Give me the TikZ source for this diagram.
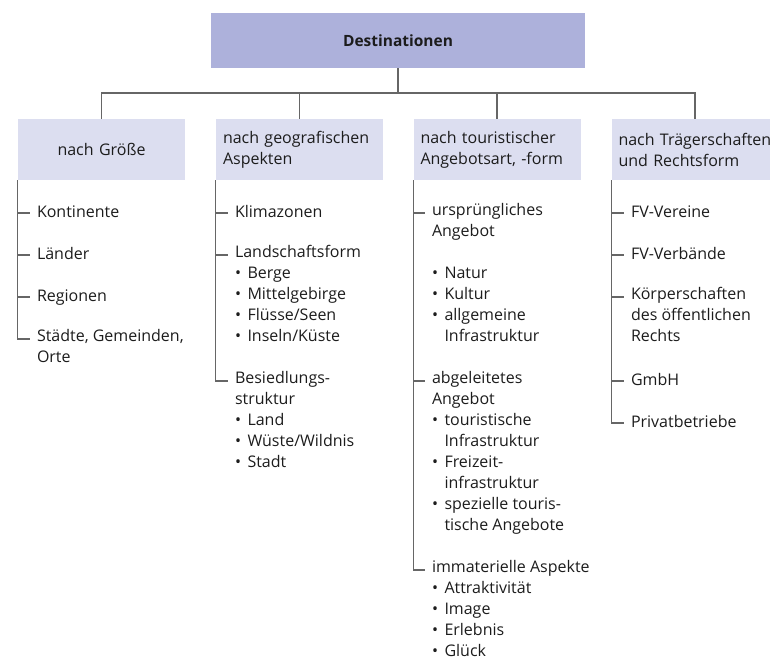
\documentclass[tikz,border=0pt]{standalone}
\usepackage{fontspec}
\setmainfont{Open Sans}
\usetikzlibrary{positioning}
\definecolor{ink}{HTML}{1C1C1C}
\definecolor{topfill}{HTML}{ADB1DB}
\definecolor{catfill}{HTML}{DCDEF0}
\definecolor{linegray}{HTML}{666666}
\newcommand{\bul}{\makebox[12.5pt][l]{\textbullet}}
\newcommand{\ind}{\hspace*{12.5pt}}
\tikzset{
  topbox/.style={fill=topfill, minimum width=374pt, minimum height=55pt, font=\fontsize{15.5}{21}\selectfont\bfseries, text=ink},
  catbox/.style={fill=catfill, minimum width=167pt, minimum height=61pt, text width=153pt, inner xsep=7pt, align=left, font=\fontsize{16}{21}\selectfont, text=ink},
  item/.style={anchor=north west, inner xsep=7pt, inner ysep=0pt, outer sep=0pt, align=left, font=\fontsize{16}{21}\selectfont, text=ink, execute at begin node=\strut},
  branch/.style={draw=linegray, line width=1.2pt}
}
\begin{document}
\begin{tikzpicture}[x=1pt, y=-1pt]
\useasboundingbox (0,0) rectangle (770,662);
\node[topbox] (dest) at (398,40.5) {Destinationen};
\node[catbox, align=center] (size) at (101.5,149.5) {nach Größe};
\node[catbox] (geo) at (299.5,149.5) {nach geografischen\\Aspekten};
\node[catbox] (tour) at (497,149.5) {nach touristischer\\Angebotsart, -form};
\node[catbox] (legal) at (695,149.5) {nach Trägerschaften\\und Rechtsform};
\coordinate (bar) at (398,93);
\draw[branch] (dest.south) -- (bar);
\draw[branch] (size.north) |- (bar -| legal.north) -- (legal.north);
\draw[branch] (bar -| geo.north) -- (geo.north);
\draw[branch] (bar -| tour.north) -- (tour.north);
% nach Groesse
\node[item] (kont) at (30,203) {Kontinente};
\node[item] (laender) at (30,245) {Länder};
\node[item] (reg) at (30,287) {Regionen};
\node[item] (staedte) at (30,329) {Städte, Gemeinden,\\Orte};
% geografisch
\node[item] (klima) at (228,203) {Klimazonen};
\node[item] (lform) at (228,245) {Landschaftsform\\\bul Berge\\\bul Mittelgebirge\\\bul Flüsse/Seen\\\bul Inseln/Küste};
\node[item] (besied) at (228,371) {Besiedlungs-\\struktur\\\bul Land\\\bul Wüste/Wildnis\\\bul Stadt};
% touristisch
\node[item] (urspr) at (425,203) {ursprüngliches\\Angebot\\[21pt]\bul Natur\\\bul Kultur\\\bul allgemeine\\\ind Infrastruktur};
\node[item] (abgel) at (425,371) {abgeleitetes\\Angebot\\\bul touristische\\\ind Infrastruktur\\\bul Freizeit-\\\ind infrastruktur\\\bul spezielle touris-\\\ind tische Angebote};
\node[item] (immat) at (425,560) {immaterielle Aspekte\\\bul Attraktivität\\\bul Image\\\bul Erlebnis\\\bul Glück};
% Traegerschaften
\node[item] (fvv) at (624,203) {FV-Vereine};
\node[item] (fvb) at (624,245) {FV-Verbände};
\node[item] (koerp) at (624,287) {Körperschaften\\des öffentlichen\\Rechts};
\node[item] (gmbh) at (624,371) {GmbH};
\node[item] (priv) at (624,413) {Privatbetriebe};
\foreach \n in {kont,laender,reg,staedte}
  \draw[branch] (size.south west) |- ([yshift=-10pt]\n.north west);
\foreach \n in {klima,lform,besied}
  \draw[branch] (geo.south west) |- ([yshift=-10pt]\n.north west);
\foreach \n in {urspr,abgel,immat}
  \draw[branch] (tour.south west) |- ([yshift=-10pt]\n.north west);
\foreach \n in {fvv,fvb,koerp,gmbh,priv}
  \draw[branch] (legal.south west) |- ([yshift=-10pt]\n.north west);
\end{tikzpicture}
\end{document}
